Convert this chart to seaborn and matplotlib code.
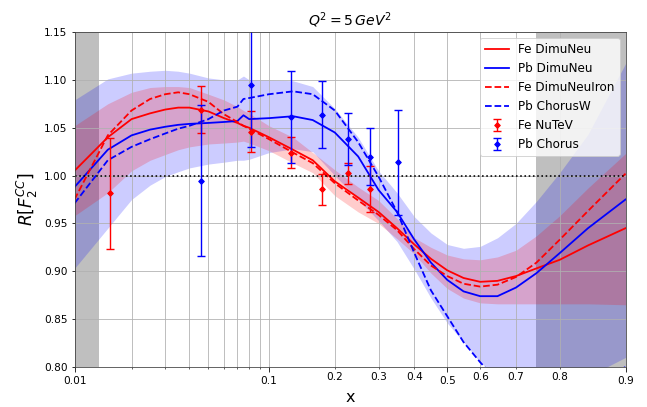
import matplotlib
matplotlib.use("Agg")
import matplotlib.pyplot as plt
import matplotlib.ticker as mticker
import numpy as np
import pandas as pd
import seaborn as sns

# x grid shared by all curves and bands
x = [0.01, 0.015, 0.02, 0.025, 0.03, 0.035, 0.04, 0.05, 0.06, 0.07, 0.075, 0.08,
     0.1, 0.13, 0.16, 0.2, 0.25, 0.3, 0.35, 0.4, 0.45, 0.5, 0.55, 0.6, 0.65,
     0.7, 0.75, 0.8, 0.85, 0.9]

fe_dimuneu = [1.005, 1.040, 1.059, 1.065, 1.069, 1.071, 1.071, 1.067, 1.060, 1.055, 1.052, 1.050,
              1.040, 1.027, 1.016, 0.994, 0.977, 0.962, 0.945, 0.928, 0.913, 0.901, 0.893, 0.889, 0.890,
              0.895, 0.903, 0.912, 0.927, 0.945]
pb_dimuneu = [0.988, 1.027, 1.042, 1.048, 1.051, 1.053, 1.054, 1.055, 1.056, 1.057, 1.063, 1.059,
              1.060, 1.062, 1.058, 1.045, 1.020, 0.985, 0.962, 0.933, 0.909, 0.891, 0.879, 0.874, 0.874,
              0.883, 0.898, 0.919, 0.945, 0.975]
fe_dimuneuiron = [0.975, 1.042, 1.068, 1.080, 1.085, 1.087, 1.085, 1.077, 1.064, 1.056, 1.052, 1.049,
                  1.038, 1.024, 1.013, 0.992, 0.974, 0.959, 0.943, 0.923, 0.906, 0.895, 0.887, 0.884, 0.886,
                  0.894, 0.909, 0.933, 0.963, 1.002]
pb_chorusw = [0.971, 1.016, 1.030, 1.038, 1.044, 1.049, 1.052, 1.059, 1.068, 1.072, 1.080, 1.081,
              1.085, 1.088, 1.085, 1.068, 1.035, 0.999, 0.962, 0.919, 0.880, 0.853, 0.826, 0.805, 0.785,
              0.770, 0.765, 0.770, 0.780, 0.800]

# uncertainty bands
fe_upper = [1.052, 1.075, 1.087, 1.092, 1.093, 1.093, 1.092, 1.085, 1.079, 1.072, 1.068, 1.065,
            1.052, 1.040, 1.024, 1.006, 0.988, 0.974, 0.955, 0.935, 0.925, 0.917, 0.913, 0.912, 0.915,
            0.922, 0.937, 0.958, 0.987, 1.023]
fe_lower = [0.958, 0.982, 1.005, 1.016, 1.022, 1.027, 1.030, 1.033, 1.034, 1.035, 1.036, 1.034,
            1.026, 1.013, 1.003, 0.979, 0.962, 0.950, 0.934, 0.918, 0.898, 0.882, 0.872, 0.867, 0.866,
            0.866, 0.866, 0.866, 0.866, 0.865]
pb_upper = [1.079, 1.101, 1.107, 1.109, 1.110, 1.109, 1.107, 1.102, 1.100, 1.100, 1.104, 1.100,
            1.100, 1.099, 1.093, 1.070, 1.040, 1.005, 0.982, 0.957, 0.940, 0.928, 0.924, 0.926, 0.935,
            0.950, 0.973, 1.003, 1.043, 1.117]
pb_lower = [0.903, 0.945, 0.975, 0.990, 0.999, 1.004, 1.008, 1.012, 1.014, 1.016, 1.016, 1.017,
            1.024, 1.028, 1.025, 1.000, 0.975, 0.953, 0.931, 0.902, 0.872, 0.846, 0.826, 0.805, 0.790,
            0.780, 0.775, 0.780, 0.790, 0.810]

# data points
nutev_x = [0.0154, 0.0459, 0.0817, 0.127, 0.1765, 0.227, 0.2787]
nutev_y = [0.9815, 1.069, 1.046, 1.024, 0.9856, 1.0023, 0.9856]
nutev_err = [0.058, 0.0245, 0.021, 0.0165, 0.016, 0.011, 0.024]

chorus_x = [0.0459, 0.0817, 0.127, 0.1765, 0.227, 0.2787, 0.352]
chorus_y = [0.9946, 1.0946, 1.0615, 1.0636, 1.038, 1.0197, 1.0138]
chorus_err = [0.0787, 0.065, 0.048, 0.035, 0.027, 0.030, 0.055]

fig = plt.figure(figsize=(647 / 72, 407 / 72), dpi=72)
ax = fig.add_axes([74.5 / 647, 1 - 367 / 407, 551 / 647, 335 / 407])

curves = pd.DataFrame({"x": x, "Fe DimuNeu": fe_dimuneu, "Pb DimuNeu": pb_dimuneu,
                       "Fe DimuNeuIron": fe_dimuneuiron, "Pb ChorusW": pb_chorusw})

ax.axvspan(0.01, 0.0135, color="gray", alpha=0.5, lw=0)
ax.axvspan(0.75, 0.9, color="gray", alpha=0.5, lw=0)

ax.fill_between(x, pb_lower, pb_upper, color="blue", alpha=0.2, lw=0)
ax.fill_between(x, fe_lower, fe_upper, color="red", alpha=0.2, lw=0)

styles = [("Fe DimuNeu", "red", "-"), ("Pb DimuNeu", "blue", "-"),
          ("Fe DimuNeuIron", "red", "--"), ("Pb ChorusW", "blue", "--")]
for name, col, ls in styles:
    sns.lineplot(data=curves, x="x", y=name, color=col, linestyle=ls, lw=1.8,
                 label=name, ax=ax, sort=False, estimator=None)

ax.axhline(1.0, color="black", ls=":", lw=1.6)

ax.errorbar(nutev_x, nutev_y, yerr=nutev_err, fmt="D", color="red", ms=4,
            capsize=4, elinewidth=1.4, capthick=1.4, label="Fe NuTeV")
ax.errorbar(chorus_x, chorus_y, yerr=chorus_err, fmt="D", color="blue", ms=4,
            capsize=4, elinewidth=1.4, capthick=1.4, label="Pb Chorus")

ax.set_xscale("logit")
ax.set_xlim(0.01, 0.9)
ax.set_ylim(0.80, 1.15)

ax.xaxis.set_major_locator(mticker.FixedLocator([0.01, 0.1, 0.5, 0.9]))
ax.xaxis.set_major_formatter(mticker.FixedFormatter(["0.01", "0.1", "0.5", "0.9"]))
minor = [0.02, 0.03, 0.04, 0.05, 0.06, 0.07, 0.08, 0.09, 0.2, 0.3, 0.4, 0.6, 0.7, 0.8]
minor_lab = ["", "", "", "", "", "", "", "", "0.2", "0.3", "0.4", "0.6", "0.7", "0.8"]
ax.xaxis.set_minor_locator(mticker.FixedLocator(minor))
ax.xaxis.set_minor_formatter(mticker.FixedFormatter(minor_lab))
ax.yaxis.set_major_locator(mticker.MultipleLocator(0.05))
ax.yaxis.set_major_formatter(mticker.FormatStrFormatter("%.2f"))
ax.yaxis.set_minor_locator(mticker.NullLocator())

ax.tick_params(axis="x", which="major", length=5, labelsize=10.5)
ax.tick_params(axis="x", which="minor", length=2, labelsize=10.5)
ax.tick_params(axis="y", labelsize=10.5)

ax.grid(True, which="both", axis="x", color="#b0b0b0", lw=0.8)
ax.grid(True, which="major", axis="y", color="#b0b0b0", lw=0.8)
for s in ax.spines.values():
    s.set_color("0.25")

ax.set_title(r"$Q^2 = 5\,GeV^2$", fontsize=14)
ax.set_xlabel("x", fontsize=16)
ax.set_ylabel(r"$R[F_2^{CC}]$", fontsize=17)
ax.legend(loc="upper right", fontsize=12)

fig.savefig("out.png", dpi=72)
